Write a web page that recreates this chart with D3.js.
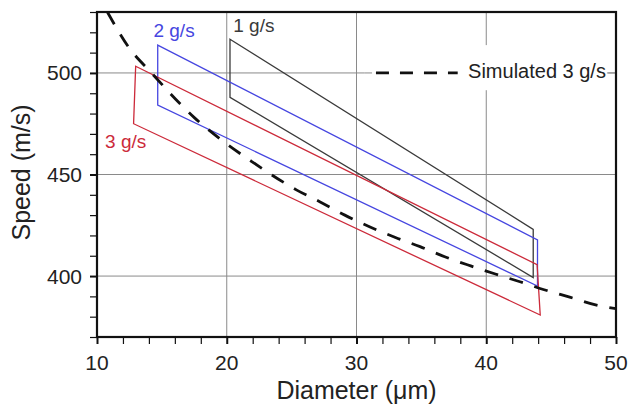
<!DOCTYPE html>
<html>
<head>
  <meta charset="utf-8">
  <title>speed-diameter</title>
  <style>
    * { margin: 0; padding: 0; }
    body { background: #fff; }
    svg { display: block; font-family: "Liberation Sans", Arial, sans-serif; }
    .grid line { stroke: #8a8a8a; stroke-width: 1; }
    .tick-label { font-size: 21px; fill: #222; }
    .axis-title { font-size: 25px; fill: #222; }
  </style>
</head>
<body>
  <svg id="svg"></svg>
  <script src="https://cdnjs.cloudflare.com/ajax/libs/d3/7.8.5/d3.min.js"></script>
  <script>
    const xTicks = [10, 20, 30, 40, 50];
    const yTicks = [400, 450, 500];
    const xGrid = [20, 30, 40];
    const yGrid = [400, 450, 500];

    // measured envelopes (diameter µm, speed m/s), corners in drawing order
    const env1 = [[20.25, 516.6], [43.62, 423], [43.62, 399.3], [20.25, 488]];
    const env2 = [[14.68, 513.7], [43.95, 417.8], [43.95, 395.1], [14.68, 484.2]];
    const env3 = [[12.98, 503.3], [43.92, 405.6], [44.16, 380.8], [12.82, 475]];

    const simulated = [
      [10.8, 530], [12.4, 513], [14.2, 500], [17.5, 478], [19.9, 465.5], [21.9, 456.5],
      [23.3, 450.5], [25.4, 442.3], [27.2, 436.5], [29.1, 430], [31, 424.3], [33, 419],
      [34.9, 414.5], [36.8, 409.5], [38.8, 405], [40.7, 401], [42.6, 397.2], [44.4, 393.4],
      [46.5, 389.5], [48.5, 385.7], [50, 384]
    ];

    const series = [
      { name: '1 g/s', pts: env1, color: '#3a3a3a', label: [20.5, 520.2] },
      { name: '2 g/s', pts: env2, color: '#4646e0', label: [14.35, 517.9] },
      { name: '3 g/s', pts: env3, color: '#cc2a3a', label: [10.62, 463.1] }
    ];

    const dim = { width: 631, height: 405, margin: { top: 12, right: 15, bottom: 68, left: 97 } };

    const svg = d3.select('#svg').attr('width', dim.width).attr('height', dim.height);

    const x = d3.scaleLinear().domain([10, 50])
      .range([dim.margin.left, dim.width - dim.margin.right]);
    const y = d3.scaleLinear().domain([370, 530])
      .range([dim.height - dim.margin.bottom, dim.margin.top]);

    svg.append('clipPath').attr('id', 'plot-clip')
      .append('rect')
      .attr('x', x(10)).attr('y', y(530))
      .attr('width', x(50) - x(10)).attr('height', y(370) - y(530));

    // grid
    const grid = svg.append('g').attr('class', 'grid');
    grid.selectAll('.vx').data(xGrid).enter().append('line')
      .attr('x1', d => x(d)).attr('x2', d => x(d))
      .attr('y1', y(530)).attr('y2', y(370));
    grid.selectAll('.hy').data(yGrid).enter().append('line')
      .attr('x1', x(10)).attr('x2', x(50))
      .attr('y1', d => y(d)).attr('y2', d => y(d));

    // legend box (blanks the grid behind it)
    const legend = svg.append('g');
    legend.append('rect')
      .attr('x', x(30.6)).attr('y', y(513.7))
      .attr('width', x(49.4) - x(30.6)).attr('height', y(491.5) - y(513.7))
      .attr('fill', '#fff');
    legend.append('line')
      .attr('x1', x(30.6)).attr('x2', x(31.2))
      .attr('y1', y(500)).attr('y2', y(500))
      .attr('stroke', '#8a8a8a');
    legend.append('line')
      .attr('x1', x(31.5)).attr('x2', x(37.8))
      .attr('y1', y(500)).attr('y2', y(500))
      .attr('stroke', '#111').attr('stroke-width', 2.8)
      .attr('stroke-dasharray', '13,11');
    legend.append('text')
      .attr('x', x(38.6)).attr('y', y(497.4))
      .attr('font-size', 20).attr('fill', '#222')
      .text('Simulated 3 g/s');
    legend.append('line')
      .attr('x1', x(49.3)).attr('x2', x(50))
      .attr('y1', y(500)).attr('y2', y(500))
      .attr('stroke', '#8a8a8a');

    // envelopes
    const plot = svg.append('g').attr('clip-path', 'url(#plot-clip)');
    const poly = d3.line().x(d => x(d[0])).y(d => y(d[1]));
    plot.selectAll('.env').data(series).enter().append('path')
      .attr('d', d => poly(d.pts) + 'Z')
      .attr('fill', 'none')
      .attr('stroke', d => d.color)
      .attr('stroke-width', 1.3);

    // simulated curve
    const curve = d3.line().x(d => x(d[0])).y(d => y(d[1])).curve(d3.curveMonotoneX);
    plot.append('path')
      .attr('d', curve(simulated))
      .attr('fill', 'none')
      .attr('stroke', '#111')
      .attr('stroke-width', 2.8)
      .attr('stroke-dasharray', '14,12');

    // series labels
    svg.selectAll('.slabel').data(series).enter().append('text')
      .attr('x', d => x(d.label[0])).attr('y', d => y(d.label[1]))
      .attr('font-size', 19)
      .attr('fill', d => d.color)
      .text(d => d.name);

    // frame
    svg.append('rect')
      .attr('x', x(10)).attr('y', y(530))
      .attr('width', x(50) - x(10)).attr('height', y(370) - y(530))
      .attr('fill', 'none').attr('stroke', '#111').attr('stroke-width', 2.2);

    // axes
    const xAxis = svg.append('g')
      .attr('transform', `translate(0, ${y(370)})`)
      .call(d3.axisBottom(x).tickValues(d3.range(10, 51, 2)).tickSize(7).tickFormat(''));
    xAxis.select('.domain').remove();
    xAxis.selectAll('.tick line')
      .attr('stroke', '#111')
      .attr('stroke-width', d => d % 10 === 0 ? 2 : 1.2);

    const yAxis = svg.append('g')
      .attr('transform', `translate(${x(10)}, 0)`)
      .call(d3.axisLeft(y).tickValues(d3.range(370, 531, 10)).tickSize(7).tickFormat(''));
    yAxis.select('.domain').remove();
    yAxis.selectAll('.tick line')
      .attr('stroke', '#111')
      .attr('stroke-width', d => d % 50 === 0 ? 2 : 1.2);

    svg.selectAll('.xl').data(xTicks).enter().append('text')
      .attr('class', 'tick-label')
      .attr('x', d => x(d)).attr('y', y(370) + 33)
      .attr('text-anchor', 'middle')
      .text(d => d);

    svg.selectAll('.yl').data(yTicks).enter().append('text')
      .attr('class', 'tick-label')
      .attr('x', x(10) - 15).attr('y', d => y(d))
      .attr('dy', '0.36em')
      .attr('text-anchor', 'end')
      .text(d => d);

    svg.append('text')
      .attr('class', 'axis-title')
      .attr('x', x(30)).attr('y', y(370) + 62)
      .attr('text-anchor', 'middle')
      .text('Diameter (\u03bcm)');

    svg.append('text')
      .attr('class', 'axis-title')
      .attr('transform', `translate(30, ${y(451)}) rotate(-90)`)
      .attr('text-anchor', 'middle')
      .text('Speed (m/s)');
  </script>
</body>
</html>
